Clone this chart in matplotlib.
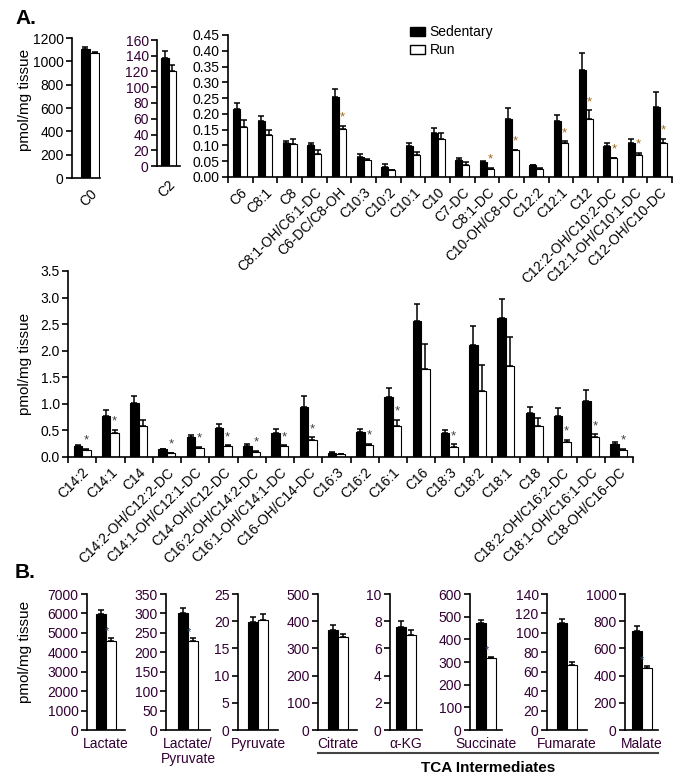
import matplotlib
matplotlib.use('Agg')
import matplotlib.pyplot as plt
import numpy as np
from matplotlib.patches import Patch
from matplotlib.lines import Line2D

plt.rcParams['font.family'] = ['Liberation Sans', 'DejaVu Sans']

# ---------------- data ----------------
c0_labels = ['C0']
c0_sed = [1110]
c0_sed_err = [12]
c0_run = [1072]
c0_run_err = [8]

c2_labels = ['C2']
c2_sed = [137]
c2_sed_err = [9]
c2_run = [120]
c2_run_err = [8]

top_labels = ['C6', 'C8:1', 'C8', 'C8:1-OH/C6:1-DC', 'C6-DC/C8-OH', 'C10:3', 'C10:2',
              'C10:1', 'C10', 'C7-DC', 'C8:1-DC', 'C10-OH/C8-DC', 'C12:2', 'C12:1', 'C12',
              'C12:2-OH/C10:2-DC', 'C12:1-OH/C10:1-DC', 'C12-OH/C10-DC']
top_sed = [0.217, 0.177, 0.108, 0.100, 0.252, 0.064, 0.032, 0.097, 0.140, 0.053, 0.047,
           0.184, 0.037, 0.177, 0.339, 0.097, 0.109, 0.221]
top_sed_err = [0.019, 0.015, 0.006, 0.008, 0.028, 0.008, 0.009, 0.012, 0.014, 0.008, 0.005,
               0.036, 0.002, 0.021, 0.053, 0.012, 0.010, 0.048]
top_run = [0.159, 0.134, 0.106, 0.072, 0.151, 0.055, 0.021, 0.071, 0.119, 0.039, 0.025,
           0.084, 0.026, 0.108, 0.184, 0.059, 0.071, 0.109]
top_run_err = [0.023, 0.014, 0.014, 0.013, 0.012, 0.003, 0.002, 0.008, 0.019, 0.007, 0.004,
               0.002, 0.001, 0.005, 0.028, 0.002, 0.006, 0.013]
top_sig = [False, False, False, False, True, False, False, False, False, False, True,
           True, False, True, True, True, True, True]

mid_labels = ['C14:2', 'C14:1', 'C14', 'C14:2-OH/C12:2-DC', 'C14:1-OH/C12:1-DC',
              'C14-OH/C12-DC', 'C16:2-OH/C14:2-DC', 'C16:1-OH/C14:1-DC', 'C16-OH/C14-DC',
              'C16:3', 'C16:2', 'C16:1', 'C16', 'C18:3', 'C18:2', 'C18:1', 'C18',
              'C18:2-OH/C16:2-DC', 'C18:1-OH/C16:1-DC', 'C18-OH/C16-DC']
mid_sed = [0.209, 0.778, 1.02, 0.146, 0.38, 0.538, 0.215, 0.443, 0.937, 0.076, 0.468,
           1.12, 2.55, 0.443, 2.107, 2.62, 0.835, 0.766, 1.057, 0.253]
mid_sed_err = [0.019, 0.108, 0.13, 0.012, 0.038, 0.089, 0.032, 0.076, 0.213, 0.013, 0.057,
               0.18, 0.32, 0.057, 0.35, 0.36, 0.102, 0.158, 0.213, 0.037]
mid_run = [0.139, 0.449, 0.589, 0.07, 0.177, 0.2, 0.101, 0.2, 0.323, 0.05, 0.228,
           0.582, 1.66, 0.196, 1.247, 1.709, 0.589, 0.278, 0.38, 0.139]
mid_run_err = [0.013, 0.064, 0.111, 0.012, 0.013, 0.02, 0.013, 0.02, 0.044, 0.006, 0.025,
               0.114, 0.46, 0.044, 0.48, 0.557, 0.145, 0.051, 0.044, 0.019]
mid_sig = [True, True, False, True, True, True, True, True, True, False, True,
           True, False, True, False, False, False, True, True, True]

tca_labels = ['Lactate', 'Lactate/\nPyruvate', 'Pyruvate', 'Citrate', '\u03b1-KG',
              'Succinate', 'Fumarate', 'Malate']
tca_sed = [5950, 300, 19.9, 369, 7.6, 471, 110, 725]
tca_sed_err = [250, 14, 0.9, 18, 0.4, 14, 4.3, 40]
tca_run = [4600, 229, 20.2, 341, 7.0, 317, 67, 457]
tca_run_err = [150, 7, 1.1, 12, 0.37, 7, 2.5, 12]
tca_sig = [True, True, False, False, False, True, False, True]
tca_ymax = [7000, 350, 25, 500, 10, 600, 140, 1000]
tca_ystep = [1000, 50, 5, 100, 2, 100, 20, 200]

# ---------------- layout ----------------
W, H = 682, 782
fig = plt.figure(figsize=(W / 100, H / 100), dpi=100)
PURPLE = '#330033'
FS = 10


def px_axes(x0, y0, x1, y1):
    a = fig.add_axes([x0 / W, 1 - y1 / H, (x1 - x0) / W, (y1 - y0) / H])
    a.patch.set_visible(False)
    return a


def style(ax, tick_color='black'):
    for s in ['top', 'right']:
        ax.spines[s].set_visible(False)
    for s in ['left', 'bottom']:
        ax.spines[s].set_linewidth(1.2)
    ax.tick_params(axis='y', direction='out', length=4, width=1.2, labelsize=FS,
                   labelcolor=tick_color, pad=2)


def draw(ax, sed, sed_err, run, run_err, sig, w, star_color, star_off=1.5):
    n = len(sed)
    x = np.arange(n)
    ax.bar(x - w / 2, sed, w, color='black', edgecolor='black', lw=0.8, zorder=2)
    ax.bar(x + w / 2, run, w, color='white', edgecolor='black', lw=0.8, zorder=2)
    ax.errorbar(x - w / 2, sed, yerr=[np.zeros(n), sed_err], fmt='none', ecolor='black',
                elinewidth=1.1, capsize=2.5, capthick=1.1, zorder=3)
    ax.errorbar(x + w / 2, run, yerr=[np.zeros(n), run_err], fmt='none', ecolor='black',
                elinewidth=1.1, capsize=2.5, capthick=1.1, zorder=3)
    for i in range(n):
        if sig[i]:
            ax.annotate('*', (x[i] + w / 2, run[i] + run_err[i]),
                        xytext=(0, star_off), textcoords='offset points',
                        ha='center', va='bottom', fontsize=9.5, color=star_color)
    return x


# ---- C0 ----
ax = px_axes(72, 38, 100, 178)
draw(ax, c0_sed, c0_sed_err, c0_run, c0_run_err, [False], 0.34, 'k')
ax.set_xlim(-0.66, 0.36)
ax.set_ylim(0, 1200)
ax.set_yticks(np.arange(0, 1201, 200))
style(ax)
ax.set_xticks([0])
ax.set_xticklabels(c0_labels, rotation=45, ha='right', rotation_mode='anchor', fontsize=FS)
ax.tick_params(axis='x', length=0, pad=6)

# ---- C2 ----
ax = px_axes(157, 40, 180, 166)
draw(ax, c2_sed, c2_sed_err, c2_run, c2_run_err, [False], 0.34, 'k')
ax.set_xlim(-0.5, 0.5)
ax.set_ylim(0, 160)
ax.set_yticks(np.arange(0, 161, 20))
style(ax, PURPLE)
ax.set_xticks([0])
ax.set_xticklabels(c2_labels, rotation=45, ha='right', rotation_mode='anchor', fontsize=FS)
ax.tick_params(axis='x', length=0, pad=8)

# ---- top right ----
ax = px_axes(228, 35, 672, 177)
x = draw(ax, top_sed, top_sed_err, top_run, top_run_err, top_sig, 0.29, '#a06a20')
ax.set_xlim(-0.5, len(top_labels) - 0.5)
ax.set_ylim(0, 0.45)
ax.set_yticks(np.arange(0, 0.451, 0.05))
ax.set_yticklabels(['%.2f' % v for v in np.arange(0, 0.451, 0.05)])
style(ax)
ax.set_xticks(x)
ax.set_xticklabels(top_labels, rotation=45, ha='right', rotation_mode='anchor', fontsize=FS)
ax.set_xticks(np.arange(-0.5, len(top_labels)), minor=True)
ax.tick_params(axis='x', which='major', length=0, pad=6)
ax.tick_params(axis='x', which='minor', length=4, width=1.2, direction='out')

fig.legend(handles=[Patch(fc='black', ec='black', label='Sedentary'),
                    Patch(fc='white', ec='black', label='Run')],
           loc='upper left', bbox_to_anchor=(410 / W, 1 - 25 / H), frameon=False,
           fontsize=FS, handlelength=1.1, handleheight=0.6, handletextpad=0.3,
           labelspacing=0.3, borderaxespad=0, borderpad=0)

# ---- middle ----
ax = px_axes(68, 271, 633, 457)
x = draw(ax, mid_sed, mid_sed_err, mid_run, mid_run_err, mid_sig, 0.30, '#3a4535')
ax.set_xlim(-0.5, len(mid_labels) - 0.5)
ax.set_ylim(0, 3.5)
ax.set_yticks(np.arange(0, 3.51, 0.5))
ax.set_yticklabels(['%.1f' % v for v in np.arange(0, 3.51, 0.5)])
style(ax)
ax.set_xticks(x)
ax.set_xticklabels(mid_labels, rotation=45, ha='right', rotation_mode='anchor', fontsize=FS)
ax.set_xticks(np.arange(-0.5, len(mid_labels)), minor=True)
ax.tick_params(axis='x', which='major', length=0, pad=6)
ax.tick_params(axis='x', which='minor', length=4, width=1.2, direction='out')

# ---- bottom (B) ----
bottom_px = [(87, 125), (166, 210), (238, 278), (318, 357), (390, 422), (470, 502),
             (547, 587), (625, 658)]
for i, (x0, x1) in enumerate(bottom_px):
    ax = px_axes(x0, 594, x1, 730)
    w = 10.0 / (x1 - x0)
    draw(ax, [tca_sed[i]], [tca_sed_err[i]], [tca_run[i]], [tca_run_err[i]], [False],
         w, 'k')
    if tca_sig[i]:
        ax.annotate('*', (0.05 * w, tca_run[i] + tca_run_err[i]),
                    xytext=(0, 1), textcoords='offset points', ha='center', va='bottom',
                    fontsize=8, color='#334466')
    ax.set_xlim(-0.5, 0.5)
    ax.set_ylim(0, tca_ymax[i])
    ax.set_yticks(np.arange(0, tca_ymax[i] + 1e-9, tca_ystep[i]))
    style(ax, PURPLE)
    ax.set_xticks([0])
    ax.set_xticklabels([tca_labels[i]], fontsize=FS, color=PURPLE, va='top',
                       linespacing=1.1)
    ax.tick_params(axis='x', length=0, pad=5)

# TCA group line + label
fig.add_artist(Line2D([318 / W, 658 / W], [1 - 753 / H, 1 - 753 / H], color='#444444',
                      lw=1.5))
fig.text(488 / W, 1 - 768 / H, 'TCA Intermediates', ha='center', va='center',
         fontsize=11, fontweight='bold')

# y labels and panel letters
for yc in [100, 364, 652]:
    fig.text(25 / W, 1 - yc / H, 'pmol/mg tissue', rotation=90, ha='center', va='center',
             fontsize=11)
fig.text(15 / W, 1 - 18 / H, 'A.', fontsize=15, fontweight='bold', ha='left', va='center')
fig.text(15 / W, 1 - 572 / H, 'B.', fontsize=15, fontweight='bold', ha='left', va='center')

fig.savefig('out.png', dpi=100)
